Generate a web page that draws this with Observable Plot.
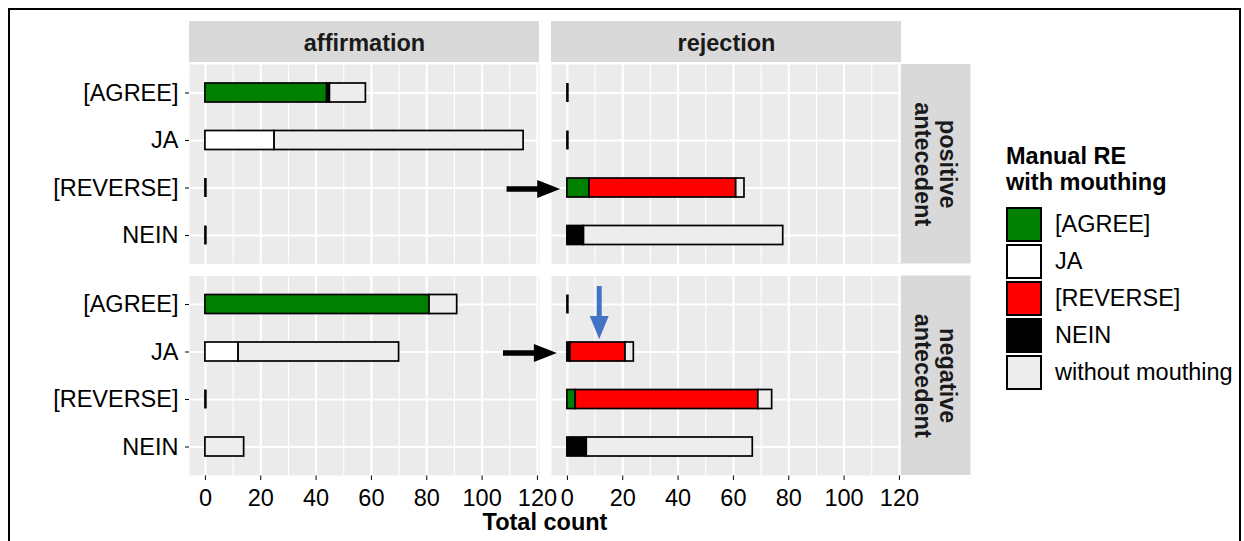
<!DOCTYPE html>
<html><head><meta charset="utf-8">
<script src="https://cdn.jsdelivr.net/npm/d3@7"></script>
<script src="https://cdn.jsdelivr.net/npm/@observablehq/plot@0.6"></script>
<style>
body{margin:0;background:#fff;font-family:"Liberation Sans",Arial,sans-serif;}
#wrap{position:relative;width:1244px;height:541px;overflow:hidden;background:#fff}
#frame{position:absolute;left:8px;top:8px;width:1233px;height:600px;border:2.5px solid #000;box-sizing:border-box;pointer-events:none}
#chart{position:absolute;left:0;top:0}
#xlabel{position:absolute;left:445px;width:200px;top:508px;text-align:center;font-weight:bold;font-size:23.5px;line-height:28px;color:#000}
#legend{position:absolute;left:1006px;top:0}
.ltitle{position:absolute;left:0;top:143px;font-weight:bold;font-size:23.5px;line-height:26px;white-space:nowrap;color:#000}
.key{position:absolute;left:0;width:36px;height:35px;border:2px solid #000;box-sizing:border-box}
.klab{position:absolute;left:49px;font-size:23.5px;line-height:28px;white-space:nowrap;color:#000}
</style></head>
<body>
<div id="wrap">
  <div id="chart"></div>
  <div id="xlabel">Total count</div>
  <div id="legend"></div>
  <div id="frame"></div>
</div>
<script>
// ---- data ----
const responses = ["affirmation", "rejection"];
const antecedents = ["positive antecedent", "negative antecedent"];
const categories = ["[AGREE]", "JA", "[REVERSE]", "NEIN"];
const mouthings = ["[AGREE]", "JA", "[REVERSE]", "NEIN", "without mouthing"];
const mouthColors = ["#008000", "#ffffff", "#ff0000", "#000000", "#ededed"];
const stackOrder = ["[AGREE]", "NEIN", "JA", "[REVERSE]", "without mouthing"];
const xTicks = [0, 20, 40, 60, 80, 100, 120];
const xMinor = [10, 30, 50, 70, 90, 110];

// panel order: pos/aff, pos/rej, neg/aff, neg/rej ; within each: [AGREE], JA, [REVERSE], NEIN
const panels = [
  ["positive antecedent", "affirmation"],
  ["positive antecedent", "rejection"],
  ["negative antecedent", "affirmation"],
  ["negative antecedent", "rejection"]
];
const mouthAgree   = [44, 0, 0, 0,   0, 0, 8, 0,    81, 0, 0, 0,   0, 0, 3, 0];
const mouthJA      = [0, 25, 0, 0,   0, 0, 0, 0,    0, 12, 0, 0,   0, 0, 0, 0];
const mouthReverse = [0, 0, 0, 0,    0, 0, 53, 0,   0, 0, 0, 0,    0, 20, 66, 0];
const mouthNein    = [1, 0, 0, 0,    0, 0, 0, 6,    0, 0, 0, 0,    0, 1, 0, 7];
const noMouthing   = [13, 90, 0, 0,  0, 0, 3, 72,   10, 58, 0, 14, 0, 3, 5, 60];

// annotation arrows (data units on the rejection panels)
const blackArrows = [
  {fy: "positive antecedent", category: "[REVERSE]", tail: -21.8, tip: -2.6},
  {fy: "negative antecedent", category: "JA", tail: -23.1, tip: -3.8}
];
const blueArrows = [{fy: "negative antecedent", category: "JA", x: 11.5}];

// ---- build table ----
const series = [
  ["[AGREE]", mouthAgree], ["JA", mouthJA], ["[REVERSE]", mouthReverse],
  ["NEIN", mouthNein], ["without mouthing", noMouthing]
];
const rows = [];
const totals = [];
panels.forEach(([ant, resp], p) => {
  categories.forEach((cat, c) => {
    const i = p * 4 + c;
    let tot = 0;
    series.forEach(([name, arr]) => {
      tot += arr[i];
      rows.push({antecedent: ant, response: resp, category: cat, mouthing: name, count: arr[i]});
    });
    totals.push({antecedent: ant, response: resp, category: cat, total: tot});
  });
});
const bars = rows.filter(d => d.count > 0);
const zeroRows = totals.filter(d => d.total === 0);
const topStrips = responses.map(r => ({response: r, antecedent: antecedents[0], label: r}));
const sideStrips = antecedents.map(a => ({response: "rejection", antecedent: a, label: a.replace(" ", "\n")}));
const arrowsBlack = blackArrows.map(d => ({...d, fx: "rejection", shaftEnd: d.tip - 7}));
const arrowsBlue = blueArrows.map(d => ({...d, fx: "rejection"}));

const headRight = {draw(ctx) { ctx.moveTo(0, 0); ctx.lineTo(-23, -9); ctx.lineTo(-23, 9); ctx.closePath(); }};
const headDown = {draw(ctx) { ctx.moveTo(0, 0); ctx.lineTo(-9.5, -23); ctx.lineTo(9.5, -23); ctx.closePath(); }};

const fontFamily = '"Liberation Sans", Arial, sans-serif';

const plot = Plot.plot({
  width: 972,
  height: 541,
  marginTop: 64,
  marginBottom: 66,
  marginLeft: 189,
  marginRight: 71,
  style: {fontFamily, fontSize: "23.5px", color: "#000", background: "transparent", overflow: "visible"},
  fx: {domain: responses, paddingInner: 0.0331, paddingOuter: 0, axis: null, label: null, round: false},
  fy: {domain: antecedents, paddingInner: 0.0568, paddingOuter: 0, axis: null, label: null, round: false},
  x: {domain: [-5.75, 120.75], ticks: xTicks, tickSize: 5, tickPadding: 9, label: null, tickFormat: d => String(d)},
  y: {domain: categories, paddingInner: 0.6, paddingOuter: 0.4, tickSize: 4, tickPadding: 7, label: null, round: false},
  color: {domain: mouthings, range: mouthColors},
  marks: [
    Plot.frame({fill: "#ebebeb", stroke: "none"}),
    Plot.ruleX(xMinor, {stroke: "#fff", strokeWidth: 1.1}),
    Plot.ruleX(xTicks, {stroke: "#fff", strokeWidth: 2.2}),
    Plot.ruleY(categories, {stroke: "#fff", strokeWidth: 2.2}),
    Plot.barX(bars, Plot.stackX({
      x: "count", y: "category", fx: "response", fy: "antecedent",
      fill: "mouthing", order: stackOrder, stroke: "#000", strokeWidth: 1.7
    })),
    Plot.tickX(zeroRows, {x: 0, y: "category", fx: "response", fy: "antecedent", stroke: "#000", strokeWidth: 2.6}),
    // strips (top)
    Plot.rect(topStrips, {fx: "response", fy: "antecedent", x1: -5.75, x2: 120.75, fill: "#d9d9d9",
      insetTop: -43, insetBottom: 201.5}),
    Plot.text(topStrips, {fx: "response", fy: "antecedent", x: 57.5, text: "label", frameAnchor: "top",
      dy: -21.5, lineAnchor: "middle", fontWeight: "bold", fontSize: 23.5, fill: "#1a1a1a"}),
    // strips (right)
    Plot.rect(sideStrips, {fx: "response", fy: "antecedent", x1: 120.75, x2: 120.75, fill: "#d9d9d9",
      insetRight: -69.5}),
    Plot.text(sideStrips, {fx: "response", fy: "antecedent", x: 120.75, dx: 34, text: "label", frameAnchor: "middle",
      rotate: 90, lineAnchor: "middle", lineHeight: 1.07, fontWeight: "bold", fontSize: 23.5, fill: "#1a1a1a"}),
    // annotation arrows
    Plot.ruleY(arrowsBlack, {fx: "fx", fy: "fy", y: "category", x1: "tail", x2: "shaftEnd", stroke: "#000", strokeWidth: 5.5, dy: 1}),
    Plot.dot(arrowsBlack, {fx: "fx", fy: "fy", y: "category", x: "tip", symbol: headRight, fill: "#000", stroke: "none", dy: 1}),
    Plot.ruleX(arrowsBlue, {fx: "fx", fy: "fy", x: "x", stroke: "#4472c4", strokeWidth: 5, insetTop: 10.5, insetBottom: 156}),
    Plot.dot(arrowsBlue, {fx: "fx", fy: "fy", y: "category", x: "x", symbol: headDown, fill: "#4472c4", stroke: "none", dy: -13})
  ]
});
document.getElementById("chart").appendChild(plot);

// ---- legend ----
const legend = document.getElementById("legend");
const t = document.createElement("div");
t.className = "ltitle";
t.innerHTML = "Manual RE<br>with mouthing";
legend.appendChild(t);
const color = plot.scale("color");
mouthings.forEach((m, i) => {
  const top = 206.5 + i * 37.1;
  const k = document.createElement("div");
  k.className = "key";
  k.style.top = top + "px";
  k.style.background = color.apply(m);
  legend.appendChild(k);
  const l = document.createElement("div");
  l.className = "klab";
  l.style.top = (top + 3.5) + "px";
  l.textContent = m;
  legend.appendChild(l);
});
</script>
</body></html>
